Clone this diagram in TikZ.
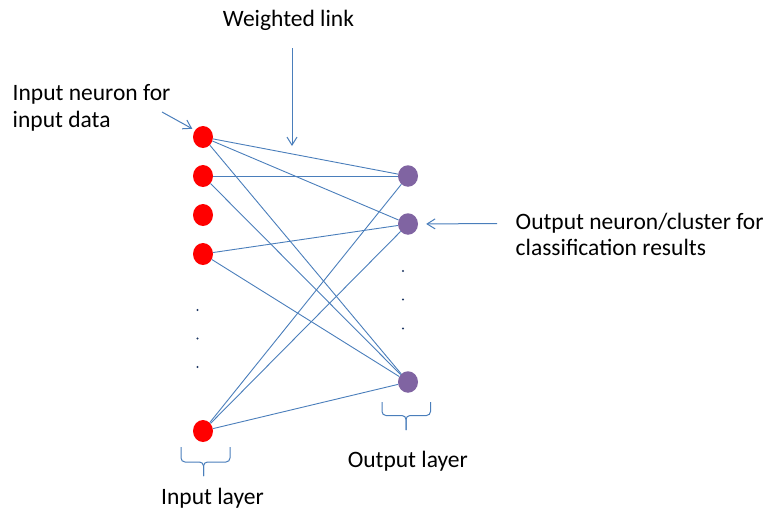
\documentclass[tikz,border=0pt]{standalone}
\usepackage{fontspec}
\setmainfont{Carlito}
\usetikzlibrary{arrows.meta,shapes.geometric}
\definecolor{linkblue}{HTML}{4A7EBB}
\definecolor{outpurple}{HTML}{8064A2}
\definecolor{dotnavy}{HTML}{1F3864}
\tikzset{
  inneuron/.style={ellipse,fill=red,draw=none,minimum width=20pt,minimum height=22pt,inner sep=0pt},
  outneuron/.style={ellipse,fill=outpurple,draw=none,minimum width=20pt,minimum height=21.5pt,inner sep=0pt},
  link/.style={draw=linkblue,line width=0.9pt},
  pointer/.style={draw=linkblue,line width=1pt,-{Straight Barb[length=8pt,width=10pt,line width=1pt]}},
  brace/.style={draw=linkblue,line width=1pt,rounded corners=4pt},
  label/.style={inner sep=0pt,font=\fontsize{23.5pt}{26.5pt}\selectfont,text=black},
  dotmark/.style={circle,fill=dotnavy,inner sep=0pt,minimum size=2.4pt}
}
\begin{document}
\begin{tikzpicture}[x=1pt,y=-1pt]
\useasboundingbox (0,0) rectangle (769,512);
% neurons
\node[inneuron] (i1) at (203,137) {};
\node[inneuron] (i2) at (203,176) {};
\node[inneuron] (i3) at (203,215) {};
\node[inneuron] (i4) at (203,254) {};
\node[inneuron] (i5) at (203,431) {};
\node[outneuron] (o1) at (408,176) {};
\node[outneuron] (o2) at (408,224) {};
\node[outneuron] (o3) at (408,382) {};
% links
\draw[link] (i1) -- (o1);
\draw[link] (i1) -- (o2);
\draw[link] (i1) -- (o3);
\draw[link] (i2) -- (o1);
\draw[link] (i2) -- (o3);
\draw[link] (i4) -- (o2);
\draw[link] (i4) -- (o3);
\draw[link] (i5) -- (o1);
\draw[link] (i5) -- (o2);
\draw[link] (i5) -- (o3);
% dots
\node[dotmark] (di1) at (197.5,310) {};
\node[dotmark] (di2) at (197.5,338.5) {};
\node[dotmark] (di3) at (197.5,367) {};
\node[dotmark] (do1) at (403,271) {};
\node[dotmark] (do2) at (403,299.5) {};
\node[dotmark] (do3) at (403,328.5) {};
% labels
\node[label,anchor=base west,align=left] (tin) at (12.5,127) {Input neuron for\\input data};
\node[label,anchor=base] (tw) at (288.5,26.7) {Weighted link};
\node[label,anchor=base west,align=left] (tout) at (515.5,255.5) {Output neuron/cluster for\\classification results};
\node[label,anchor=base] (tol) at (407.8,467.3) {Output layer};
\node[label,anchor=base west] (til) at (161,504.5) {Input layer};
% pointers
\coordinate (ain) at (162,112);
\coordinate (wtop) at (292,48);
\coordinate (wend) at (292,146);
\coordinate (aout) at (497,223.5);
\draw[pointer,shorten >=3pt] (ain) -- (i1.140);
\draw[pointer] (wtop) -- (wend);
\draw[pointer,shorten >=8pt] (aout) -- (o2.east);
% braces
\draw[brace] (181,447) -- (181,462) -- (203.5,462) -- (203.5,476);
\draw[brace] (230,447) -- (230,462) -- (203.5,462) -- (203.5,476);
\draw[brace] (382,402) -- (382,415.5) -- (406,415.5) -- (406,430);
\draw[brace] (430.5,402) -- (430.5,415.5) -- (406,415.5) -- (406,430);
\end{tikzpicture}
\end{document}
